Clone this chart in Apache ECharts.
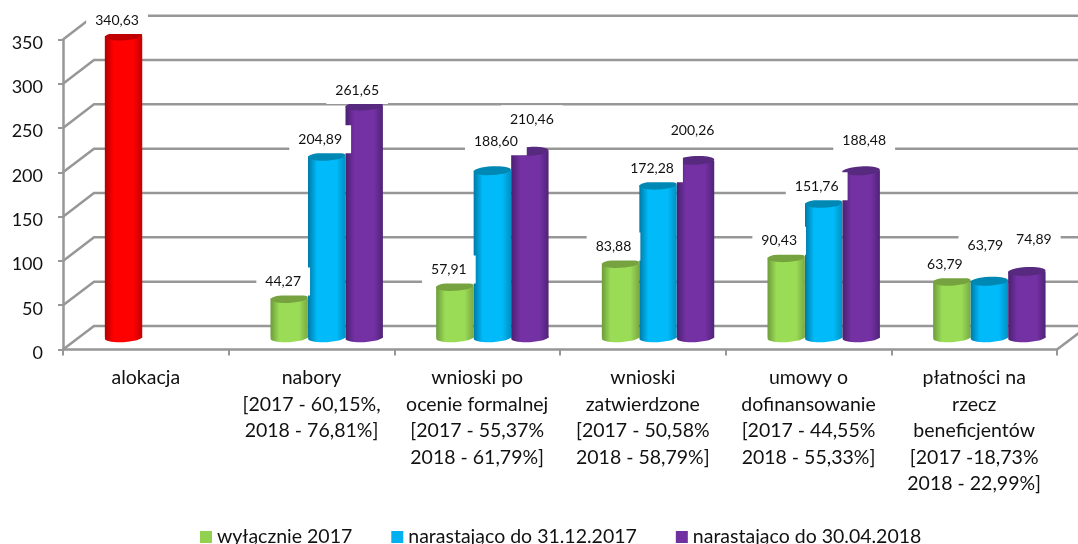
<!DOCTYPE html>
<html>
<head>
<meta charset="utf-8">
<style>
  html, body { margin: 0; padding: 0; background: #fff; }
  #chart { width: 1078px; height: 544px; overflow: hidden; }
</style>
<script src="https://cdn.jsdelivr.net/npm/echarts@6/dist/echarts.min.js"></script>
</head>
<body>
<div id="chart"></div>
<script>
const categories = [
  "alokacja",
  "nabory\n[2017 - 60,15%,\n2018 - 76,81%]",
  "wnioski po\nocenie formalnej\n[2017 - 55,37%\n2018 - 61,79%]",
  "wnioski\nzatwierdzone\n[2017 - 50,58%\n2018 - 58,79%]",
  "umowy o\ndofinansowanie\n[2017 - 44,55%\n2018 - 55,33%]",
  "płatności na\nrzecz\nbeneficjentów\n[2017 -18,73%\n2018 - 22,99%]",
];
const yTicks = [0, 50, 100, 150, 200, 250, 300, 350];

const seriesNames = ["wyłącznie 2017", "narastająco do 31.12.2017", "narastająco do 30.04.2018"];
const only2017 = [340.63, 44.27, 57.91, 83.88, 90.43, 63.79];
const upTo2017 = [null, 204.89, 188.6, 172.28, 151.76, 63.79];
const upTo2018 = [null, 261.65, 210.46, 200.26, 188.48, 74.89];

// przesuniecia etykiet wzgledem srodka gornej podstawy walca (recznie ustawione jak w oryginale)
const only2017Nudge = [[-6.5, -16], [-6, -17], [-6, -17], [-7, -17], [-7, -17], [-7, -17]];
const upTo2017Nudge = [null, [-6.5, -17], [3.5, -29.5], [-6, -17], [-7, -17], [-4, -36]];
const upTo2018Nudge = [null, [-7, -16], [2, -32], [-3, -30], [3, -30], [7, -32]];

const FONT = "Lato, sans-serif";
const GRID_COLOR = "#979797";
const DEPTH_X = 31;      // przesuniecie tylnej sciany
const DEPTH_Y = -23.5;
const DEPTH_Y_TOP = -23.8;
const BAR_SLOT = 37.5;
const BAR_HALF = 18.7;
const ELLIPSE_RY = 4.4;
const ELLIPSE_TILT = 0.05;

const palettes = {
  red: { edgeL: "#b50000", mid: "#ff0000", edgeR: "#c20000", top: "#c00000" },
  green: { edgeL: "#6d9b3a", mid: "#9bdc57", edgeR: "#7aa943", top: "#76a33f" },
  blue: { edgeL: "#0079a6", mid: "#00baf9", edgeR: "#0090c2", top: "#0088b5" },
  purple: { edgeL: "#4a2070", mid: "#7331a3", edgeR: "#4f2377", top: "#572a80" },
};

function cylinderFill(p) {
  return {
    type: "linear", x: 0, y: 0, x2: 1, y2: 0,
    colorStops: [
      { offset: 0, color: p.edgeL },
      { offset: 0.24, color: p.mid },
      { offset: 0.76, color: p.mid },
      { offset: 1, color: p.edgeR },
    ],
  };
}

// srodek gornej podstawy walca w pikselach, os wartosci z prawdziwej skali
function barTop(api, slot) {
  const pt = api.coord([api.value(0), api.value(1)]);
  return [pt[0] + DEPTH_X / 2 + (slot - 1) * BAR_SLOT - 0.3, pt[1] + DEPTH_Y / 2];
}

function renderWalls(params, api) {
  const cs = params.coordSys;
  const v = api.value(0);
  const y = api.coord([0, v])[1];
  const dy = DEPTH_Y + (DEPTH_Y_TOP - DEPTH_Y) * (v / 350);
  const points = v === 0
    ? [[cs.x, y], [cs.x + DEPTH_X, y + dy], [cs.x + cs.width + DEPTH_X, y + dy], [cs.x + cs.width, y]]
    : [[cs.x, y], [cs.x + DEPTH_X, y + dy], [cs.x + cs.width + DEPTH_X, y + dy]];
  return {
    type: "polyline",
    shape: { points: points },
    style: { stroke: GRID_COLOR, lineWidth: 2.5, fill: "none" },
    silent: true,
  };
}

function makeBarRender(slot, paletteFor) {
  return function (params, api) {
    const top = barTop(api, slot);
    const base = api.coord([api.value(0), 0]);
    const baseY = base[1] + DEPTH_Y / 2;
    const p = paletteFor(params.dataIndex);
    const fill = cylinderFill(p);
    return {
      type: "group",
      children: [
        {
          type: "ellipse",
          shape: { cx: top[0], cy: baseY, rx: BAR_HALF, ry: ELLIPSE_RY },
          originX: top[0], originY: baseY, rotation: ELLIPSE_TILT,
          style: { fill: fill },
        },
        { type: "rect", shape: { x: top[0] - BAR_HALF, y: top[1], width: BAR_HALF * 2, height: baseY - top[1] }, style: { fill: fill } },
        {
          type: "ellipse",
          shape: { cx: top[0], cy: top[1], rx: BAR_HALF, ry: ELLIPSE_RY },
          originX: top[0], originY: top[1], rotation: ELLIPSE_TILT,
          style: { fill: p.top },
        },
      ],
    };
  };
}

function makeLabelRender(slot, nudges) {
  return function (params, api) {
    const top = barTop(api, slot);
    const n = nudges[api.value(0)];
    return {
      type: "text",
      style: {
        x: top[0] + n[0],
        y: top[1] + n[1],
        text: api.value(1).toFixed(2).replace(".", ","),
        align: "center",
        verticalAlign: "middle",
        font: "14px " + FONT,
        fill: "#111",
        backgroundColor: "#fff",
        padding: [7, 9],
      },
      silent: true,
    };
  };
}

function toItems(values) {
  const out = [];
  values.forEach(function (v, i) {
    if (v !== null) out.push([i, v]);
  });
  return out;
}

const barSeries = [
  { values: only2017, nudges: only2017Nudge, color: "#92d050", paletteFor: function (i) { return i === 0 ? palettes.red : palettes.green; } },
  { values: upTo2017, nudges: upTo2017Nudge, color: "#00b0f0", paletteFor: function () { return palettes.blue; } },
  { values: upTo2018, nudges: upTo2018Nudge, color: "#7030a0", paletteFor: function () { return palettes.purple; } },
];

const series = [
  {
    type: "custom", name: "grid", z: 1, silent: true, clip: false,
    renderItem: renderWalls,
    encode: { y: 0 },
    data: yTicks.map(function (t) { return [t]; }),
  },
];
barSeries.forEach(function (s, slot) {
  series.push({
    type: "custom", name: seriesNames[slot], z: 2 + slot, clip: false,
    itemStyle: { color: s.color },
    renderItem: makeBarRender(slot, s.paletteFor),
    encode: { x: 0, y: 1 },
    data: toItems(s.values),
  });
});
barSeries.forEach(function (s, slot) {
  series.push({
    type: "custom", name: "labels" + slot, z: 10, silent: true, clip: false,
    renderItem: makeLabelRender(slot, s.nudges),
    encode: { x: 0, y: 1 },
    data: toItems(s.values),
  });
});

const chart = echarts.init(document.getElementById("chart"));
chart.setOption({
  animation: false,
  backgroundColor: "#fff",
  legend: {
    data: seriesNames,
    left: 195,
    top: 522,
    icon: "rect",
    itemWidth: 12,
    itemHeight: 12,
    itemGap: 39,
    textStyle: { fontFamily: FONT, fontSize: 19.5, color: "#111" },
    selectedMode: false,
  },
  grid: { left: 63, top: 39.5, width: 994, height: 310 },
  xAxis: {
    type: "category",
    data: categories,
    axisLine: { lineStyle: { color: GRID_COLOR, width: 2.5 } },
    axisTick: { show: true, interval: 0, length: 6, lineStyle: { color: GRID_COLOR, width: 2 } },
    axisLabel: { interval: 0, margin: 15, fontFamily: FONT, fontSize: 19.5, lineHeight: 26.5, color: "#111" },
  },
  yAxis: {
    type: "value",
    min: 0,
    max: 350,
    interval: 50,
    axisLine: { show: true, lineStyle: { color: GRID_COLOR, width: 2.5 } },
    axisTick: { show: true, length: 5, lineStyle: { color: GRID_COLOR, width: 2 } },
    axisLabel: {
      margin: 20,
      formatter: "{tick|{value}}",
      rich: { tick: { fontFamily: FONT, fontSize: 18, color: "#111", padding: [7, 0, 0, 0] } },
    },
    splitLine: { show: false },
  },
  series: series,
});
</script>
</body>
</html>
